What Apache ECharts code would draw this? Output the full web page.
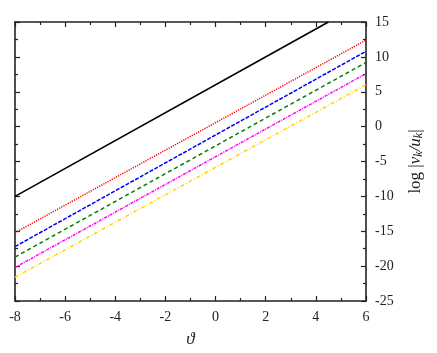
<!DOCTYPE html>
<html><head><meta charset="utf-8">
<script src="https://cdn.jsdelivr.net/npm/echarts@6/dist/echarts.min.js"></script>
<style>html,body{margin:0;padding:0;background:#fff}#c{width:437px;height:353px}</style>
</head><body><div id="c"></div>
<script>
const xTicks = [-8, -6, -4, -2, 0, 2, 4, 6];
const yTicks = [-25, -20, -15, -10, -5, 0, 5, 10, 15];
const xEnds = [-8, 6];
const xBlack = [-8, 4.5];
const blackVals = [-10, 15];
const redVals = [-15.2, 12.4];
const blueVals = [-17.2, 10.8];
const greenVals = [-18.7, 9.2];
const magentaVals = [-20.2, 7.6];
const yellowVals = [-21.6, 6.0];

const chart = echarts.init(document.getElementById('c'));
const font = 'Liberation Serif';
function pts(xs, ys){ return xs.map((x,i)=>[x, ys[i]]); }
function ser(xs, ys, color, type, w){
  return {type:'line', data: pts(xs, ys), symbol:'none', animation:false, clip:true,
    lineStyle:{color: color, width: w, type: type}};
}
const axisLine = {show:true, onZero:false, lineStyle:{color:'#222', width:1.6}};
const xBase = {type:'value', min:-8, max:6, interval:2,
  axisLine: axisLine, splitLine:{show:false},
  axisTick:{show:true, inside:true, length:5, lineStyle:{color:'#222', width:1.2}},
  minorTick:{show:true, splitNumber:2, length:3, lineStyle:{color:'#222', width:1.2}}};
const yBase = {type:'value', min:-25, max:15, interval:5,
  axisLine: axisLine, splitLine:{show:false},
  axisTick:{show:true, inside:true, length:5, lineStyle:{color:'#222', width:1.2}},
  minorTick:{show:true, splitNumber:2, length:3, lineStyle:{color:'#222', width:1.2}}};
chart.setOption({
  animation:false,
  grid:{left:15, right:71, top:22, bottom:51},
  xAxis:[
    Object.assign({}, xBase, {position:'bottom',
      axisLabel:{show:true, margin:9, fontFamily:font, fontSize:14, color:'#222',
        formatter: v => xTicks.includes(v) ? String(v) : ''},
      name:'ϑ', nameLocation:'middle', nameGap:30,
      nameTextStyle:{fontFamily:font, fontStyle:'italic', fontSize:17, color:'#222'}}),
    Object.assign({}, xBase, {position:'top', axisLabel:{show:false}})
  ],
  yAxis:[
    Object.assign({}, yBase, {position:'right',
      axisLabel:{show:true, margin:9, fontFamily:font, fontSize:14, color:'#222',
        formatter: v => yTicks.includes(v) ? String(v) : ''},
      name:'{r|log |}{i|v}{s|k}{i|/u}{s|k}{r||}', nameLocation:'middle', nameGap:40, nameRotate:90,
      nameTextStyle:{fontFamily:font, fontSize:17, color:'#222',
        rich:{r:{fontFamily:font, fontSize:17, color:'#222'},
              i:{fontFamily:font, fontSize:17, fontStyle:'italic', color:'#222'},
              s:{fontFamily:font, fontSize:12, fontStyle:'italic', color:'#222', verticalAlign:'bottom', padding:[7,0,0,0]}}}}),
    Object.assign({}, yBase, {position:'left', axisLabel:{show:false}})
  ],
  series:[
    ser(xBlack, blackVals, '#000000', 'solid', 1.7),
    ser(xEnds, redVals, '#ff0000', [1.2,1.2], 1.5),
    ser(xEnds, blueVals, '#0000ff', [4,1.5], 1.5),
    ser(xEnds, greenVals, '#008000', [4,3], 1.5),
    ser(xEnds, magentaVals, '#ff00ff', [3,1,1,1], 1.5),
    ser(xEnds, yellowVals, '#ffd700', [4,2,1,2], 1.5)
  ]
});
</script></body></html>
